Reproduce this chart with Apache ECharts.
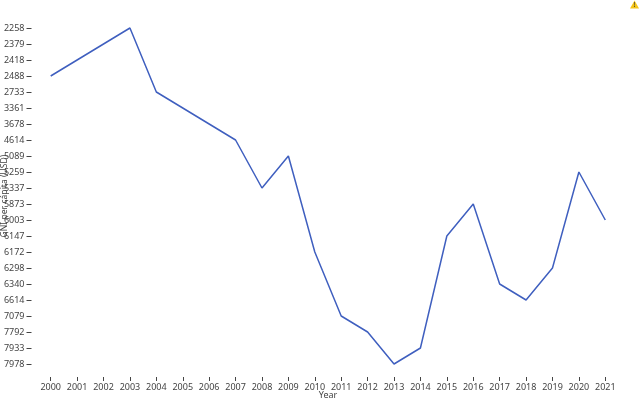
<!DOCTYPE html>
<html><head><meta charset="utf-8">
<style>html,body{margin:0;padding:0;background:#fff}#c{width:640px;height:400px}</style>
<script src="https://cdn.jsdelivr.net/npm/echarts@6/dist/echarts.min.js"></script></head>
<body><div id="c"></div>
<script>
const years=['2000','2001','2002','2003','2004','2005','2006','2007','2008','2009','2010','2011','2012','2013','2014','2015','2016','2017','2018','2019','2020','2021'];
const yTicks=['2258','2379','2418','2488','2733','3361','3678','4614','5089','5259','5337','5873','6003','6147','6172','6298','6340','6614','7079','7792','7933','7978'];
const gni=['2488','2418','2379','2258','2733','3361','3678','4614','5337','5089','6172','7079','7792','7978','7933','6147','5873','6340','6614','6298','5259','6003'];
const font='"Noto Sans"';
const chart=echarts.init(document.getElementById('c'),null,{renderer:'canvas'});
chart.setOption({
 animation:false,
 grid:{left:37.5,right:21.5,top:20,bottom:28,containLabel:false,outerBoundsMode:'none'},
 xAxis:{type:'category',data:years,offset:5,boundaryGap:true,
  axisLine:{show:false},axisTick:{show:true,alignWithLabel:true,length:4,lineStyle:{color:'#444',width:1}},
  axisLabel:{interval:0,fontFamily:font,fontSize:9,color:'#444',margin:6,hideOverlap:false},
  name:'Year',nameLocation:'middle',nameGap:14,nameMoveOverlap:false,nameTextStyle:{fontFamily:font,fontSize:9,color:'#444'},splitLine:{show:false}},
 yAxis:{type:'category',data:yTicks,inverse:true,offset:6,boundaryGap:true,
  axisLine:{show:false},axisTick:{show:true,alignWithLabel:true,length:5,lineStyle:{color:'#444',width:1}},
  axisLabel:{interval:0,fontFamily:font,fontSize:9,color:'#444',margin:7,hideOverlap:false},
  name:'GNI per cápita (USD)',nameLocation:'middle',nameGap:22,nameMoveOverlap:false,nameTextStyle:{fontFamily:font,fontSize:8.6,color:'#444'},splitLine:{show:false}},
 series:[{type:'line',data:gni,symbol:'none',lineStyle:{color:'#3f5fbf',width:1.5}}],
 graphic:[{type:'polygon',shape:{points:[[634.5,0.5],[639,8.5],[630,8.5]]},style:{fill:'#f5c518'}},
  {type:'text',x:634.5,y:1.5,style:{text:'!',fontSize:7,fontFamily:font,fill:'#333',align:'center'}}]
});
</script></body></html>
